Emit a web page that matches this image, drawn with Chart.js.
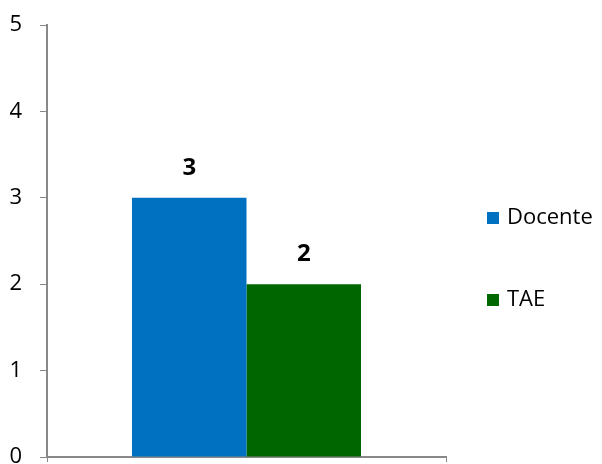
<!DOCTYPE html>
<html>
<head>
<meta charset="utf-8">
<script src="https://cdn.jsdelivr.net/npm/chart.js@4/dist/chart.umd.min.js"></script>
<style>
html,body{margin:0;padding:0;background:#fff;}
#wrap{position:relative;width:602px;height:464px;}
</style>
</head>
<body>
<div id="wrap"><canvas id="c" width="602" height="464"></canvas></div>
<script>
const categories = [""];
const seriesNames = ["Docente", "TAE"];
const docenteValues = [3];
const taeValues = [2];
const yTicks = [0, 1, 2, 3, 4, 5];
const seriesColors = ["#0070C0", "#006600"];

const FONT = "'Open Sans', sans-serif";
const axisColor = "#888888";

const labelPlugin = {
  id: "valueLabels",
  afterDatasetsDraw(chart) {
    const ctx = chart.ctx;
    ctx.save();
    ctx.font = "bold 24px " + FONT;
    ctx.fillStyle = "#000";
    ctx.textAlign = "center";
    ctx.textBaseline = "middle";
    chart.data.datasets.forEach((ds, i) => {
      chart.getDatasetMeta(i).data.forEach((bar, j) => {
        ctx.fillText(String(ds.data[j]), bar.x, bar.y - 30);
      });
    });
    ctx.restore();
  }
};

const legendPlugin = {
  id: "sideLegend",
  afterDraw(chart) {
    const ctx = chart.ctx;
    ctx.save();
    ctx.font = "22px " + FONT;
    ctx.textBaseline = "middle";
    ctx.textAlign = "left";
    const ys = [218, 300];
    chart.data.datasets.forEach((ds, i) => {
      const y = ys[i];
      ctx.fillStyle = ds.backgroundColor;
      ctx.fillRect(487, y - 6, 12, 12);
      ctx.fillStyle = "#000";
      ctx.fillText(ds.label, 507, y);
    });
    ctx.restore();
  }
};

new Chart(document.getElementById("c"), {
  type: "bar",
  data: {
    labels: categories,
    datasets: [
      { label: seriesNames[0], data: docenteValues, backgroundColor: seriesColors[0] },
      { label: seriesNames[1], data: taeValues, backgroundColor: seriesColors[1] }
    ]
  },
  options: {
    responsive: false,
    animation: false,
    devicePixelRatio: 1,
    layout: { padding: { top: 25, right: 156, left: 0, bottom: 0 } },
    plugins: { legend: { display: false }, tooltip: { enabled: false } },
    datasets: { bar: { categoryPercentage: 0.574, barPercentage: 1.0 } },
    scales: {
      x: {
        grid: { drawOnChartArea: false, color: axisColor, tickLength: 5, offset: true },
        border: { color: axisColor, width: 2 },
        ticks: { display: false },
        afterFit(s) { s.height = 7; s.paddingLeft = 0; s.paddingRight = 0; s.paddingTop = 0; s.paddingBottom = 0; }
      },
      y: {
        min: 0, max: 5,
        afterBuildTicks(s) { s.ticks = yTicks.map(v => ({ value: v })); },
        grid: { drawOnChartArea: false, color: axisColor, tickLength: 7 },
        border: { color: axisColor, width: 2 },
        ticks: { color: "#000", font: { family: FONT, size: 22 }, padding: 18 },
        afterFit(s) { s.width = 47; s.paddingTop = 0; s.paddingBottom = 0; s.paddingLeft = 0; s.paddingRight = 0; }
      }
    }
  },
  plugins: [labelPlugin, legendPlugin]
});
</script>
</body>
</html>
